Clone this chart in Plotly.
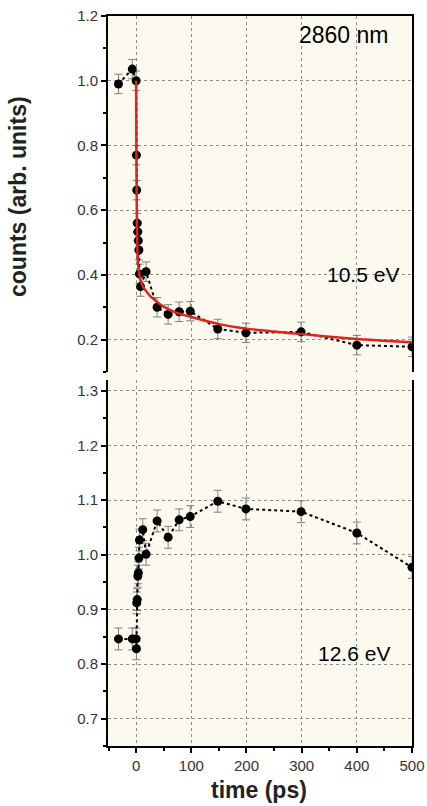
import plotly.graph_objects as go
from plotly.subplots import make_subplots

# Photoelectron counts vs pump-probe delay, 2860 nm excitation
# --- 10.5 eV probe (upper panel) ---
t_upper = [-32, -7, 0, 0.5, 1, 2, 3, 4, 5, 6, 8, 18, 38, 58, 78, 98, 148, 199, 299, 400, 500]
counts_upper = [0.99, 1.036, 1.0, 0.77, 0.662, 0.56, 0.533, 0.506, 0.477, 0.403, 0.364, 0.41,
                0.30, 0.278, 0.286, 0.288, 0.233, 0.221, 0.224, 0.183, 0.178]
err_upper = [0.03] * len(t_upper)

# fitted decay curve for the 10.5 eV signal
t_fit = [0, 0.3, 0.6, 1, 1.5, 2, 3, 5, 8, 12, 18, 25, 37, 50, 70, 100, 150, 200, 250, 300, 400, 500]
fit_upper = [1.0, 0.86, 0.74, 0.64, 0.55, 0.49, 0.445, 0.41, 0.385, 0.365, 0.35, 0.335,
             0.318, 0.302, 0.285, 0.27, 0.248, 0.234, 0.225, 0.217, 0.202, 0.192]

# --- 12.6 eV probe (lower panel) ---
t_lower = [-32, -7, 0, 0.5, 1, 2, 3, 4, 5, 6, 12, 18, 38, 58, 78, 98, 148, 199, 299, 400, 500]
counts_lower = [0.846, 0.846, 0.846, 0.828, 0.912, 0.918, 0.961, 0.967, 0.994, 1.027, 1.046, 1.001,
                1.062, 1.032, 1.064, 1.070, 1.098, 1.084, 1.079, 1.040, 0.977]
err_lower = [0.02] * len(t_lower)

x_ticks = [0, 100, 200, 300, 400, 500]
upper_ticks = [0.2, 0.4, 0.6, 0.8, 1.0, 1.2]
lower_ticks = [0.7, 0.8, 0.9, 1.0, 1.1, 1.2, 1.3]

cream = "#fcf9ee"
font_family = "Liberation Sans, Arial, Helvetica, sans-serif"

fig = make_subplots(rows=2, cols=1, shared_xaxes=False, vertical_spacing=0.0)

fig.add_trace(go.Scatter(
    x=t_upper, y=counts_upper, mode="lines+markers",
    line=dict(color="black", width=2, dash="dot"),
    marker=dict(color="black", size=9),
    error_y=dict(type="data", array=err_upper, color="#808080", thickness=1, width=4),
    showlegend=False), row=1, col=1)

fig.add_trace(go.Scatter(
    x=t_fit, y=fit_upper, mode="lines",
    line=dict(color="#e0231c", width=2.5, shape="spline", smoothing=0.6),
    showlegend=False), row=1, col=1)

fig.add_trace(go.Scatter(
    x=t_lower, y=counts_lower, mode="lines+markers",
    line=dict(color="black", width=2, dash="dot"),
    marker=dict(color="black", size=9),
    error_y=dict(type="data", array=err_lower, color="#808080", thickness=1, width=4),
    showlegend=False), row=2, col=1)

tick_font = dict(family=font_family, size=15, color="#333333")
grid = dict(showgrid=True, gridcolor="#8c8c8c", gridwidth=1, griddash="dot", automargin=False)

fig.update_layout(
    width=427, height=806,
    margin=dict(l=108, r=15, t=16, b=60),
    paper_bgcolor="white", plot_bgcolor=cream,
    font=dict(family=font_family, color="#222222"),
    xaxis=dict(domain=[0, 1], range=[-51, 500], side="top", showline=True, linecolor="black",
               linewidth=2, ticks="", showticklabels=False, tickvals=x_ticks, zeroline=False,
               matches="x2", **grid),
    yaxis=dict(domain=[(746 - 372) / 730, 1], range=[0.1, 1.2], tickvals=upper_ticks,
               ticktext=[f"{v:.1f}" for v in upper_ticks], showline=True, mirror=True,
               linecolor="black", linewidth=2, ticks="outside", ticklen=5, tickwidth=1.5,
               tickcolor="black", tickfont=tick_font, zeroline=False,
               minor=dict(ticks="outside", ticklen=3, tickcolor="black", dtick=0.1, tick0=0,
                          showgrid=False),
               **grid),
    xaxis2=dict(domain=[0, 1], range=[-51, 500], showline=True, linecolor="black", linewidth=2,
                ticks="outside", ticklen=5, tickwidth=1.5, tickcolor="black", tickvals=x_ticks,
                tickfont=tick_font, zeroline=False,
                minor=dict(ticks="outside", ticklen=3, tickcolor="black", dtick=50, tick0=0,
                           showgrid=False),
                **grid),
    yaxis2=dict(domain=[0, (746 - 380) / 730], range=[0.65, 1.32], tickvals=lower_ticks,
                ticktext=[f"{v:.1f}" for v in lower_ticks], showline=True, mirror=True,
                linecolor="black", linewidth=2, ticks="outside", ticklen=5, tickwidth=1.5,
                tickcolor="black", tickfont=tick_font, zeroline=False,
                minor=dict(ticks="outside", ticklen=3, tickcolor="black", dtick=0.05, tick0=0,
                           showgrid=False),
                **grid),
    shapes=[dict(type="rect", xref="paper", yref="paper", x0=0, x1=1, y0=0, y1=1,
                 fillcolor=cream, line=dict(width=0), layer="below")],
)

label_font = dict(family=font_family, size=21, color="black")
fig.add_annotation(text="2860 nm", xref="x", yref="y", x=377, y=1.141, showarrow=False,
                   font=dict(family=font_family, size=23, color="black"))
fig.add_annotation(text="10.5 eV", xref="x", yref="y", x=411, y=0.40, showarrow=False,
                   font=label_font)
fig.add_annotation(text="12.6 eV", xref="x", yref="y2", x=395, y=0.819, showarrow=False,
                   font=label_font)

# axis titles
fig.add_annotation(text="<b>counts (arb. units)</b>", xref="paper", yref="paper",
                   x=(18 - 108) / 304, xanchor="center", y=(746 - 197) / 730,
                   yanchor="middle", textangle=-90, showarrow=False,
                   font=dict(family=font_family, size=23, color="#222222"))
fig.add_annotation(text="<b>time (ps)</b>", xref="paper", yref="paper",
                   x=(259 - 108) / 304, xanchor="center", y=-(790 - 746) / 730,
                   yanchor="middle", showarrow=False,
                   font=dict(family=font_family, size=23, color="#222222"))

fig.write_html("out.html")
